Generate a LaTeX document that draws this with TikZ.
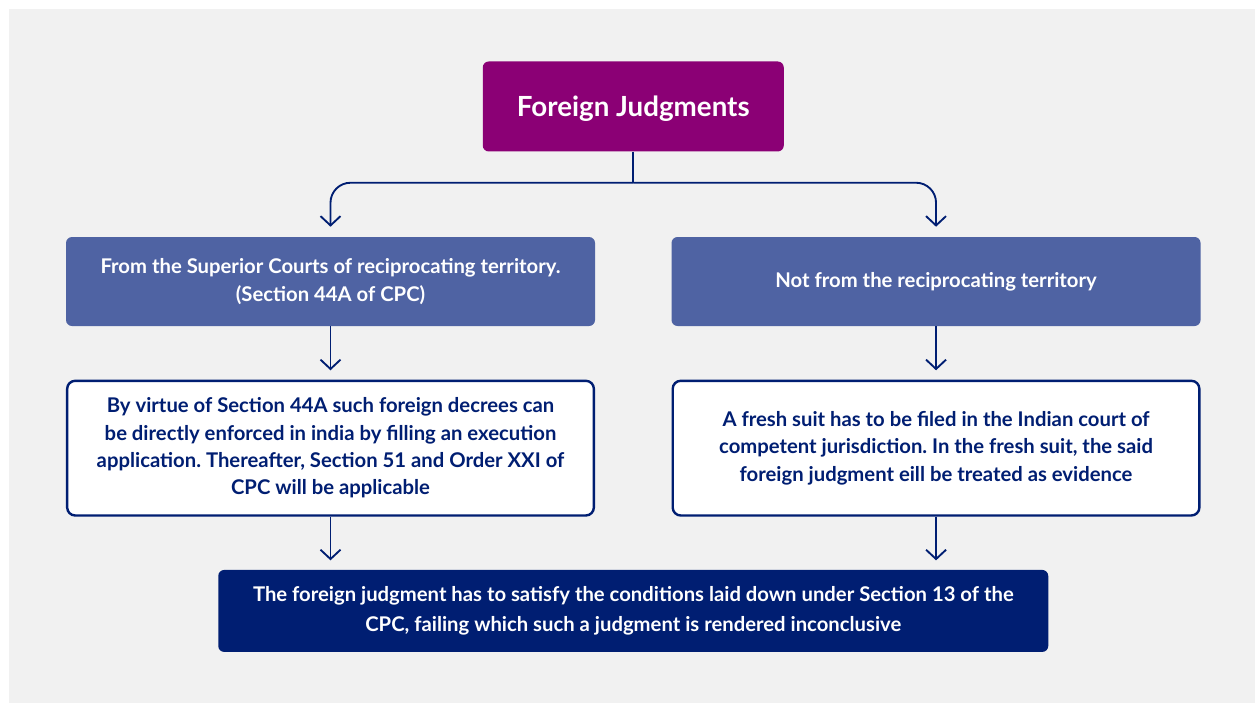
\documentclass[tikz,border=0pt]{standalone}
\usepackage{fontspec}
\setmainfont{Lato}
\usepackage{tikz}
\usetikzlibrary{arrows.meta, positioning, calc}
\definecolor{bggray}{RGB}{241, 241, 241}
\definecolor{headpurple}{RGB}{139, 0, 117}
\definecolor{midblue}{RGB}{79, 99, 163}
\definecolor{navy}{RGB}{0, 30, 114}
\frenchspacing

\begin{document}
\begin{tikzpicture}[
    x=0.75pt, y=-0.75pt,
    head/.style={fill=headpurple, rounded corners=4.5pt, minimum width=225.75pt, minimum height=67.5pt, text=white, font=\bfseries\fontsize{20.8}{24}\selectfont, align=center},
    route/.style={fill=midblue, rounded corners=4.5pt, minimum width=396.75pt, minimum height=66.75pt, text=white, font=\bfseries\fontsize{15.2}{20.5}\selectfont, align=center},
    detail/.style={draw=navy, line width=1.8pt, fill=white, rounded corners=6pt, minimum width=395pt, minimum height=101pt, text=navy, font=\bfseries\fontsize{15.2}{20.5}\selectfont, align=center},
    verdict/.style={fill=navy, rounded corners=4.5pt, minimum width=622.5pt, minimum height=61.5pt, text=white, font=\bfseries\fontsize{15.2}{22.5}\selectfont, align=center},
    link/.style={-{Straight Barb[length=7pt, width=15pt, line width=1.4pt]}, line width=1.4pt, navy}
]
    % Background
    \useasboundingbox (0,0) rectangle (1255,703);
    \fill[bggray] (9,9) rectangle (1255,703);

    % Nodes
    \node[route] (superior) at (330.5,281.5) {From the Superior Courts of reciprocating territory.\\(Section 44A of CPC)};
    \node[route, right=57pt of superior] (nonrecip) {Not from the reciprocating territory};
    \coordinate (topmid) at ($(superior.north)!0.5!(nonrecip.north)$);
    \node[head, above=63.75pt of topmid, text depth=1pt] (foreign) {Foreign Judgments};
    \node[detail, below=40pt of superior] (execute) {By virtue of Section 44A such foreign decrees can\\be directly enforced in india by filling an execution\\application. Thereafter, Section 51 and Order XXI of\\CPC will be applicable};
    \node[detail, below=40pt of nonrecip] (freshsuit) {A fresh suit has to be filed in the Indian court of\\competent jurisdiction. In the fresh suit, the said\\foreign judgment eill be treated as evidence};
    \coordinate (lowmid) at ($(execute.south)!0.5!(freshsuit.south)$);
    \node[verdict, below=39.75pt of lowmid] (section13) {The foreign judgment has to satisfy the conditions laid down under Section 13 of the\\CPC, failing which such a judgment is rendered inconclusive};

    % Arrows
    \coordinate[below=23.25pt of foreign.south] (split);
    \coordinate (verdtop) at ([yshift=7pt]section13.north);
    \draw[line width=1.4pt, navy] (foreign.south) -- (split);
    \draw[link, rounded corners=15pt] (split) -| ([yshift=7.5pt]superior.north);
    \draw[link, rounded corners=15pt] (split) -| ([yshift=7.5pt]nonrecip.north);
    \draw[link] (superior.south) -- ([yshift=7pt]execute.north);
    \draw[link] (nonrecip.south) -- ([yshift=7pt]freshsuit.north);
    \draw[link] (execute.south) -- (execute.south |- verdtop);
    \draw[link] (freshsuit.south) -- (freshsuit.south |- verdtop);
\end{tikzpicture}
\end{document}
